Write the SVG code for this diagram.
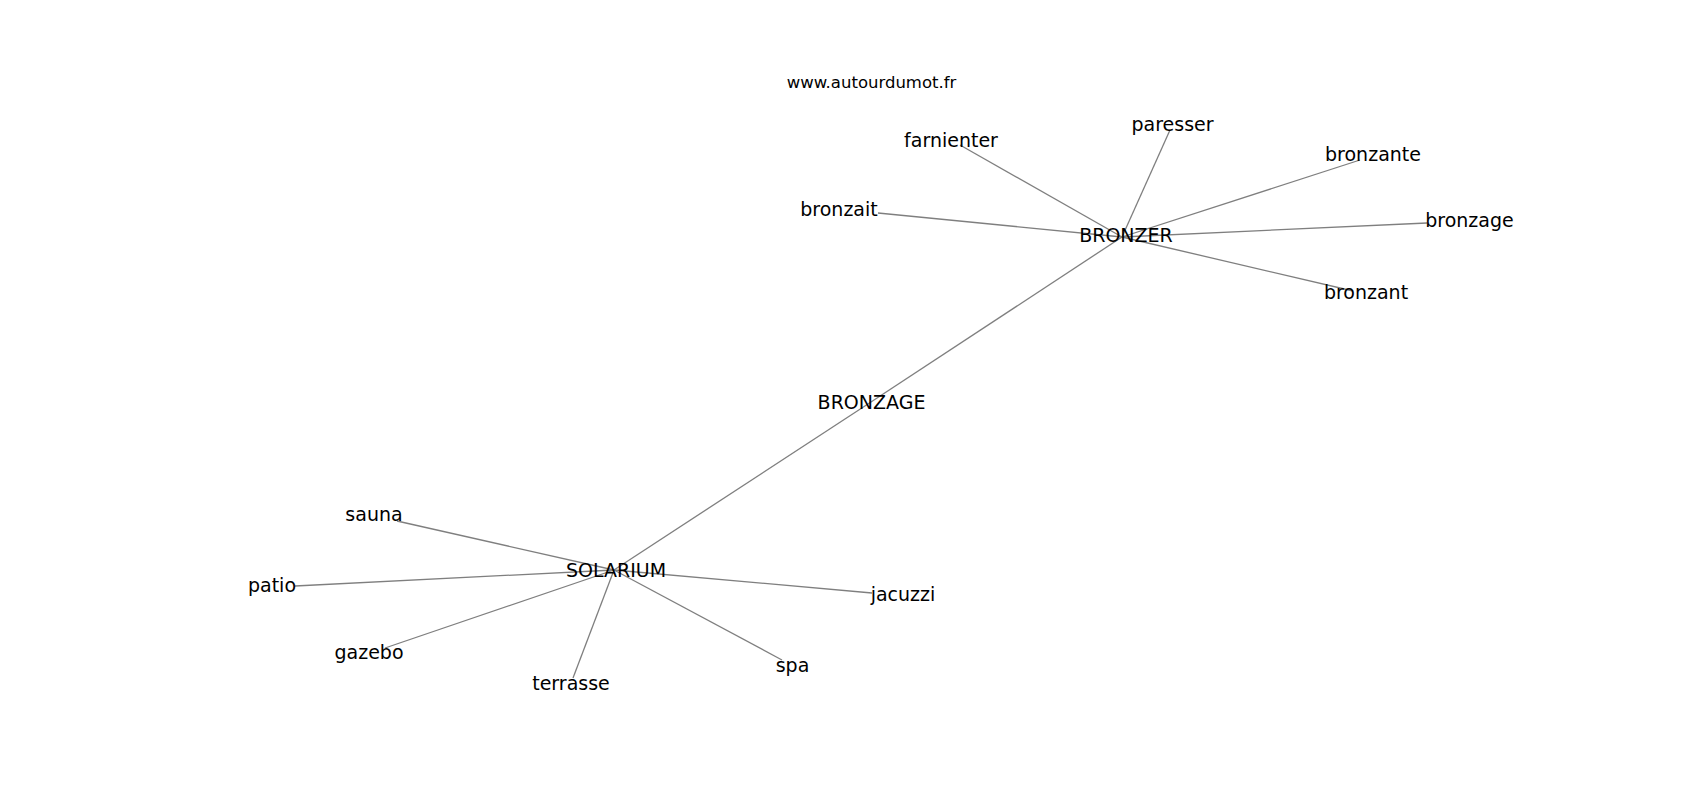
<svg xmlns="http://www.w3.org/2000/svg" width="1700" height="800" viewBox="0 0 1700 800">
<style>
.e{stroke:#7f7f7f;stroke-width:1.3;fill:none}
text{font-family:"DejaVu Sans",sans-serif;font-size:19px;fill:#000;text-anchor:middle}
.t{font-size:16.5px}
</style>
<rect width="1700" height="800" fill="#fff"/>
<g id="connectors">
<line class="e" x1="871" y1="402" x2="1122" y2="237"/>
<line class="e" x1="871" y1="402" x2="614" y2="570"/>
<line class="e" x1="1122" y1="237" x2="960" y2="145"/>
<line class="e" x1="1122" y1="237" x2="1170" y2="130"/>
<line class="e" x1="1122" y1="237" x2="1360" y2="160"/>
<line class="e" x1="1122" y1="237" x2="1427" y2="223"/>
<line class="e" x1="1122" y1="237" x2="1353" y2="291"/>
<line class="e" x1="1122" y1="237" x2="878" y2="213"/>
<line class="e" x1="614" y1="570" x2="397" y2="521"/>
<line class="e" x1="614" y1="570" x2="295" y2="586"/>
<line class="e" x1="614" y1="570" x2="385" y2="648"/>
<line class="e" x1="614" y1="570" x2="573" y2="678"/>
<line class="e" x1="614" y1="570" x2="782" y2="660"/>
<line class="e" x1="614" y1="570" x2="872" y2="593"/>
</g>
<g id="title"><text class="t" x="871.5" y="88">www.autourdumot.fr</text></g>
<g id="n-bronzage-c"><text x="871.5" y="409">BRONZAGE</text></g>
<g id="n-bronzer"><text x="1126" y="242">BRONZER</text></g>
<g id="n-solarium"><text x="616" y="577">SOLARIUM</text></g>
<g id="n-farnienter"><text x="951" y="147">farnienter</text></g>
<g id="n-paresser"><text x="1172.5" y="131">paresser</text></g>
<g id="n-bronzante"><text x="1373" y="161">bronzante</text></g>
<g id="n-bronzage"><text x="1469.5" y="227">bronzage</text></g>
<g id="n-bronzant"><text x="1366" y="299">bronzant</text></g>
<g id="n-bronzait"><text x="839" y="216">bronzait</text></g>
<g id="n-sauna"><text x="374" y="521">sauna</text></g>
<g id="n-patio"><text x="272" y="592">patio</text></g>
<g id="n-gazebo"><text x="369" y="659">gazebo</text></g>
<g id="n-terrasse"><text x="571" y="690">terrasse</text></g>
<g id="n-spa"><text x="792.5" y="672">spa</text></g>
<g id="n-jacuzzi"><text x="903" y="601">jacuzzi</text></g>
</svg>
